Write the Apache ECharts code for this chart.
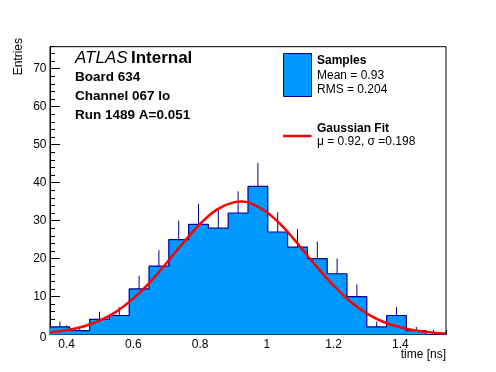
<!DOCTYPE html>
<html>
<head>
<meta charset="utf-8">
<script src="https://cdn.jsdelivr.net/npm/echarts@6/dist/echarts.min.js"></script>
<style>
html,body{margin:0;padding:0;background:#fff;}
#c{width:496px;height:372px;}
</style>
</head>
<body>
<div id="c"></div>
<script>
// ---- data ----
const binEdges = [0.35, 0.40935, 0.4687, 0.52805, 0.5874, 0.64675, 0.7061, 0.76545, 0.8248, 0.88415,
  0.9435, 1.00285, 1.0622, 1.12155, 1.1809, 1.24025, 1.2996, 1.35895, 1.4183, 1.47765, 1.537];
const counts = [2, 1, 4, 5, 12, 18, 25, 29, 28, 32, 39, 27, 23, 20, 16, 10, 2, 5, 1, 0];
const errUp = [1.4, 1, 2, 2.2, 3.5, 4.2, 5, 5.4, 5.3, 5.7, 6.2, 5.2, 4.8, 4.5, 4, 3.2, 1.4, 2.2, 1, 0];
const fitX = [0.35, 0.40, 0.45, 0.50, 0.55, 0.60, 0.65, 0.70, 0.75, 0.80, 0.85, 0.90, 0.925, 0.95, 1.00,
  1.05, 1.10, 1.15, 1.20, 1.25, 1.30, 1.35, 1.40, 1.45, 1.50, 1.537];
const fitY = [0.56, 1.1, 2.1, 3.7, 6.1, 9.5, 13.8, 18.9, 24.2, 29.1, 32.9, 34.8, 35.0, 34.6, 32.2,
  28.2, 23.1, 17.8, 12.9, 8.7, 5.5, 3.3, 1.9, 0.97, 0.48, 0.27];
const xTickLabels = [0.4, 0.6, 0.8, 1.0, 1.2, 1.4];
const yTickLabels = [0, 10, 20, 30, 40, 50, 60, 70];
const xMin = 0.35, xMax = 1.537, yMin = 0, yMax = 75.8;

const FONT = "'Liberation Sans', Arial, Helvetica, sans-serif";
const FILL = '#0099ff';
const EDGE = '#000099';

// step outline points
const stepData = counts.map((c, i) => [binEdges[i], c]);
stepData.push([binEdges[binEdges.length - 1], counts[counts.length - 1]]);
const errData = counts.map((c, i) => [(binEdges[i] + binEdges[i + 1]) / 2, c, c + errUp[i]]);
const fitData = fitX.map((x, i) => [x, fitY[i]]);

const chart = echarts.init(document.getElementById('c'), null, {renderer: 'canvas'});
const grid = {left: 50, right: 50, top: 46.7, bottom: 37.5, show: true, borderColor: '#000', borderWidth: 1, backgroundColor: 'transparent'};

chart.setOption({
  animation: false,
  backgroundColor: '#fff',
  grid: grid,
  xAxis: [{
    type: 'value', min: xMin, max: xMax, gridIndex: 0,
    axisLine: {show: true, lineStyle: {color: '#000', width: 1}},
    axisTick: {show: true, inside: true, length: 9, customValues: xTickLabels, lineStyle: {color: '#000'}},
    axisLabel: {show: true, customValues: xTickLabels, margin: 4, color: '#000', fontFamily: FONT, fontSize: 12,
      formatter: v => String(+(+v).toFixed(2))},
    splitLine: {show: false}
  }, {
    type: 'value', min: xMin, max: xMax, interval: 0.05, gridIndex: 0, position: 'bottom',
    axisLine: {show: false},
    axisTick: {show: true, inside: true, length: 4.5, lineStyle: {color: '#000'}},
    axisLabel: {show: false},
    splitLine: {show: false}
  }],
  yAxis: [{
    type: 'value', min: yMin, max: yMax, gridIndex: 0,
    axisLine: {show: true, lineStyle: {color: '#000', width: 1}},
    axisTick: {show: true, inside: true, length: 10, customValues: yTickLabels, lineStyle: {color: '#000'}},
    axisLabel: {show: true, customValues: yTickLabels, margin: 3.5, color: '#000', fontFamily: FONT, fontSize: 12,
      formatter: v => (+v === 0 ? '{z|0}' : String(v)),
      rich: {z: {padding: [6, 0, 0, 0], fontFamily: FONT, fontSize: 12, color: '#000'}}},
    splitLine: {show: false}
  }, {
    type: 'value', min: yMin, max: yMax, interval: 2, gridIndex: 0, position: 'left',
    axisLine: {show: false},
    axisTick: {show: true, inside: true, length: 5, lineStyle: {color: '#000'}},
    axisLabel: {show: false},
    splitLine: {show: false}
  }],
  series: [{
    type: 'line', name: 'Samples', step: 'end', data: stepData, symbol: 'none',
    xAxisIndex: 0, yAxisIndex: 0,
    lineStyle: {color: EDGE, width: 1.2},
    areaStyle: {color: FILL, opacity: 1},
    z: 2
  }, {
    type: 'custom', name: 'errors', data: errData, xAxisIndex: 0, yAxisIndex: 0,
    renderItem: function (params, api) {
      const p0 = api.coord([api.value(0), api.value(1)]);
      const p1 = api.coord([api.value(0), api.value(2)]);
      return {type: 'line', shape: {x1: p0[0], y1: p0[1], x2: p1[0], y2: p1[1]},
        style: {stroke: EDGE, lineWidth: 1}};
    },
    z: 3
  }, {
    type: 'line', name: 'Gaussian Fit', data: fitData, smooth: 0.4, symbol: 'none',
    xAxisIndex: 0, yAxisIndex: 0,
    lineStyle: {color: '#ff0000', width: 2.5},
    z: 4
  }],
  graphic: [
    {type: 'text', rotation: Math.PI / 2, style: {text: 'Entries', font: '12px ' + FONT, fill: '#000', align: 'right', verticalAlign: 'middle'}, x: 19, y: 38, z: 10},
    {type: 'text', x: 446, y: 355, style: {text: 'time [ns]', font: '12px ' + FONT, fill: '#000', align: 'right', verticalAlign: 'middle'}, z: 10},
    {type: 'text', x: 75, y: 58, style: {text: '{a|ATLAS} {b|Internal}', verticalAlign: 'middle',
      rich: {a: {fontStyle: 'italic', fontSize: 17, fontFamily: FONT, fill: '#000'}, b: {fontWeight: 'bold', fontSize: 17, fontFamily: FONT, fill: '#000'}}}, z: 10},
    {type: 'text', x: 75, y: 77, style: {text: 'Board 634', font: 'bold 13.5px ' + FONT, fill: '#000', verticalAlign: 'middle'}, z: 10},
    {type: 'text', x: 75, y: 96, style: {text: 'Channel 067 lo', font: 'bold 13.5px ' + FONT, fill: '#000', verticalAlign: 'middle'}, z: 10},
    {type: 'text', x: 75, y: 115, style: {text: 'Run 1489 A=0.051', font: 'bold 13.5px ' + FONT, fill: '#000', verticalAlign: 'middle'}, z: 10},
    {type: 'rect', shape: {x: 283.5, y: 53.5, width: 28, height: 43}, style: {fill: FILL, stroke: EDGE, lineWidth: 1}, z: 10},
    {type: 'text', x: 317, y: 61, style: {text: 'Samples', font: 'bold 12px ' + FONT, fill: '#000', verticalAlign: 'middle'}, z: 10},
    {type: 'text', x: 317, y: 76, style: {text: 'Mean = 0.93', font: '12px ' + FONT, fill: '#000', verticalAlign: 'middle'}, z: 10},
    {type: 'text', x: 317, y: 90, style: {text: 'RMS = 0.204', font: '12px ' + FONT, fill: '#000', verticalAlign: 'middle'}, z: 10},
    {type: 'line', shape: {x1: 283, y1: 136, x2: 311.5, y2: 136}, style: {stroke: '#ff0000', lineWidth: 2.5}, z: 10},
    {type: 'text', x: 317, y: 129, style: {text: 'Gaussian Fit', font: 'bold 12px ' + FONT, fill: '#000', verticalAlign: 'middle'}, z: 10},
    {type: 'text', x: 317, y: 142, style: {text: 'μ = 0.92, σ =0.198', font: '12px ' + FONT, fill: '#000', verticalAlign: 'middle'}, z: 10}
  ]
});
</script>
</body>
</html>
